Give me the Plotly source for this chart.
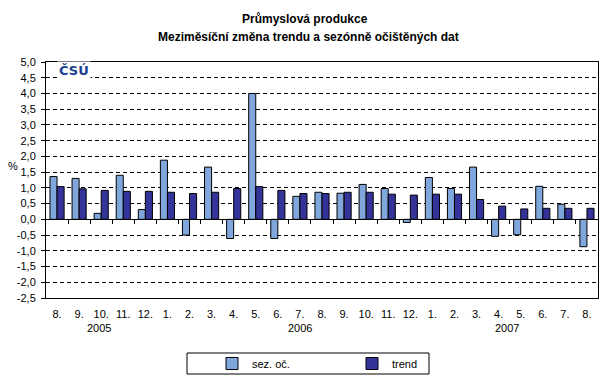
import plotly.graph_objects as go

months = ["8.", "9.", "10.", "11.", "12.",
          "1.", "2.", "3.", "4.", "5.", "6.", "7.", "8.", "9.", "10.", "11.", "12.",
          "1.", "2.", "3.", "4.", "5.", "6.", "7.", "8."]
years = ["2005", "2006", "2007"]
year_pos = [1.9, 11.0, 20.4]

sez_oc = [1.36, 1.30, 0.19, 1.40, 0.31, 1.88, -0.50, 1.66, -0.61, 4.00, -0.61, 0.73,
          0.86, 0.83, 1.11, 0.98, -0.10, 1.33, 0.98, 1.66, -0.54, -0.49, 1.05, 0.48, -0.87]
trend = [1.04, 0.97, 0.92, 0.89, 0.89, 0.86, 0.82, 0.86, 0.98, 1.04, 0.92, 0.82,
         0.82, 0.86, 0.86, 0.80, 0.77, 0.80, 0.80, 0.63, 0.42, 0.33, 0.35, 0.35, 0.35]

ytick_vals = [-2.5, -2.0, -1.5, -1.0, -0.5, 0.0, 0.5, 1.0, 1.5, 2.0, 2.5, 3.0, 3.5, 4.0, 4.5, 5.0]
ytick_text = ["-2,5", "-2,0", "-1,5", "-1,0", "-0,5", "0,0", "0,5", "1,0", "1,5", "2,0",
              "2,5", "3,0", "3,5", "4,0", "4,5", "5,0"]

x = list(range(len(months)))
FONT = "Liberation Sans, Arial, sans-serif"

# plot area in pixels
L, R, T, B = 46, 598, 62, 298
PW, PH = R - L, B - T


def px(xp):
    return (xp - L) / PW


def py(yp):
    return (B - yp) / PH


fig = go.Figure()
fig.add_trace(go.Bar(x=x, y=sez_oc, name="sez. oč.",
                     marker=dict(color="#7fa7dc", line=dict(color="black", width=1))))
fig.add_trace(go.Bar(x=x, y=trend, name="trend",
                     marker=dict(color="#333399", line=dict(color="black", width=1))))
# invisible trace to bind the zero-line axis
fig.add_trace(go.Scatter(x=[x[0]], y=[0], xaxis="x2", mode="markers",
                         marker=dict(opacity=0), showlegend=False, hoverinfo="skip"))

xr = [-0.5, len(months) - 0.5]
fig.update_layout(
    width=609, height=384,
    margin=dict(l=L, r=609 - R, t=T, b=384 - B, autoexpand=False),
    paper_bgcolor="white", plot_bgcolor="white",
    font=dict(family=FONT, size=11, color="black"),
    barmode="group", bargap=0.36, bargroupgap=0,
    showlegend=True,
    legend=dict(orientation="h", x=px(212), xanchor="left", y=py(363.5), yanchor="middle",
                borderwidth=0, bgcolor="rgba(0,0,0,0)", entrywidth=95, itemwidth=30,
                font=dict(size=11)),
    xaxis=dict(range=xr, tickmode="array", tickvals=x, ticktext=months,
               ticks="outside", ticklen=6, tickcolor="rgba(0,0,0,0)",
               showline=True, mirror=True, linecolor="black", linewidth=1,
               showgrid=False, zeroline=False, tickfont=dict(size=11)),
    xaxis2=dict(range=xr, overlaying="x", anchor="free", position=1/3, side="bottom",
                tickmode="array", tickvals=[i + 0.5 for i in x[:-1]], ticks="outside",
                ticklen=4, tickcolor="black", showticklabels=False, showline=True,
                linecolor="black", linewidth=1, showgrid=False, zeroline=False),
    yaxis=dict(range=[-2.5, 5.0], domain=[0, 1], tickmode="array", tickvals=ytick_vals,
               ticktext=ytick_text, ticks="outside", ticklen=4, tickcolor="black",
               ticklabelstandoff=3,
               showline=True, mirror=True, linecolor="black", linewidth=1,
               showgrid=True, gridcolor="black", griddash="4px,3px", gridwidth=1,
               zeroline=False, tickfont=dict(size=11)),
    shapes=[dict(type="rect", xref="paper", yref="paper",
                 x0=px(187), x1=px(429), y0=py(374), y1=py(353),
                 line=dict(color="black", width=1), fillcolor="rgba(0,0,0,0)")],
)

fig.add_annotation(text="<b>Průmyslová produkce</b>", xref="paper", yref="paper",
                   x=px(305), y=py(19), showarrow=False,
                   font=dict(size=12, family=FONT), xanchor="center", yanchor="middle")
fig.add_annotation(text="<b>Meziměsíční změna trendu a sezónně očištěných dat</b>",
                   xref="paper", yref="paper", x=px(308), y=py(37),
                   showarrow=False, font=dict(size=12, family=FONT),
                   xanchor="center", yanchor="middle")
fig.add_annotation(text="%", xref="paper", yref="paper", x=px(13),
                   y=py(166), showarrow=False, font=dict(size=11),
                   xanchor="center", yanchor="middle")
fig.add_annotation(text="<b>ČSÚ</b>", xref="paper", yref="paper",
                   x=px(74), y=py(70), showarrow=False,
                   font=dict(size=13, color="#1a3f8f", family="DejaVu Sans, sans-serif"),
                   xanchor="center", yanchor="middle", bgcolor="white")
for yr, xp in zip(years, year_pos):
    fig.add_annotation(text=yr, x=xp, xref="x", yref="paper", y=py(328),
                       showarrow=False, font=dict(size=11), xanchor="center", yanchor="middle")

fig.write_html("out.html", config={"displayModeBar": False},
               post_script="document.body.style.margin='0px';")
